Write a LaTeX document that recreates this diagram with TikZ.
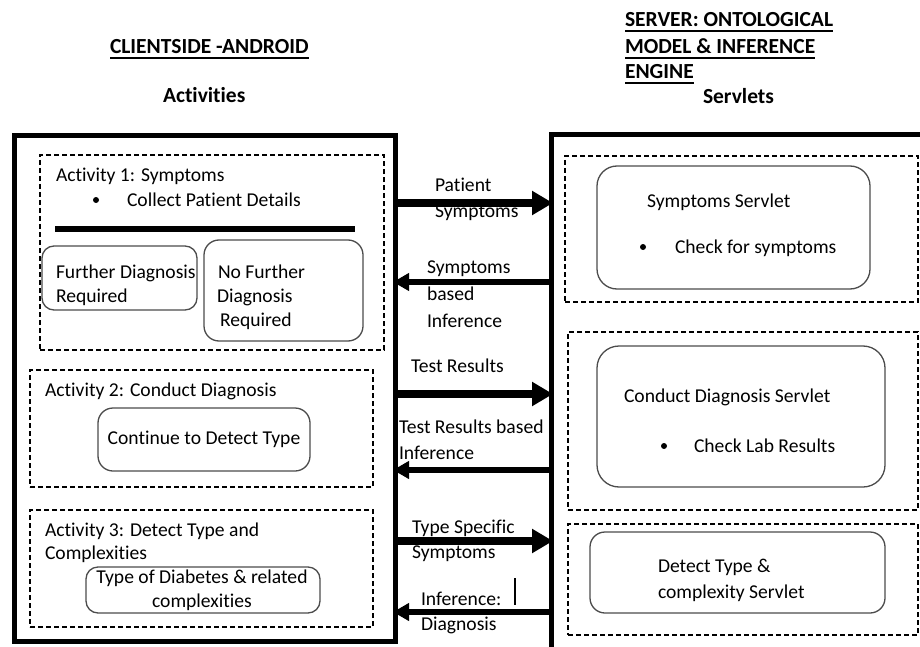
\documentclass[tikz,border=0pt]{standalone}
\usepackage{fontspec}
\setmainfont[Ligatures=NoCommon]{Carlito}
\usetikzlibrary{arrows.meta}
\begin{document}
\begin{tikzpicture}[x=1pt,y=-1pt,
  every node/.style={font=\fontsize{19.6}{23}\selectfont},
  txt/.style={anchor=base west, inner sep=0pt, outer sep=0pt},
  ttl/.style={anchor=base west, inner sep=0pt, outer sep=0pt, font=\fontsize{21.5}{25}\selectfont\bfseries},
  bigbox/.style={draw, line width=5pt, anchor=north west, outer sep=0pt, inner sep=0pt},
  dbox/.style={draw, line width=1.1pt, dash pattern=on 5pt off 3pt, anchor=north west, outer sep=0pt, inner sep=0pt},
  rbox/.style={draw=black!70, line width=1.3pt, rounded corners=15pt, anchor=north west, outer sep=0pt, inner sep=0pt},
  bul/.style={circle, fill, inner sep=0pt, minimum size=6pt},
  fwd/.style={line width=7.5pt, -{Triangle[length=21pt,width=23pt]}, shorten >=-2pt},
  bwd/.style={line width=5.5pt, -{Triangle[length=16pt,width=17pt]}, shorten >=-2pt},
  uline/.style={line width=1.3pt}
]
\useasboundingbox (0,0) rectangle (920,647);
\fill[white] (0,0) rectangle (920,647);
\clip (0,0) rectangle (920,647);

% titles
\node[ttl] (t1) at (110,54) {CLIENTSIDE -ANDROID};
\draw[uline] ([yshift=-4pt]t1.base west) -- ([yshift=-4pt]t1.base east);
\node[ttl] (t2) at (163,103) {Activities};
\node[ttl] (t3) at (625,27) {SERVER: ONTOLOGICAL};
\node[ttl] (t4) at (625,54) {MODEL \& INFERENCE};
\node[ttl] (t5) at (625,79) {ENGINE};
\draw[uline] ([yshift=-4pt]t3.base west) -- ([yshift=-4pt]t3.base east);
\draw[uline] ([yshift=-4pt]t4.base west) -- ([yshift=-4pt]t4.base east);
\draw[uline] ([yshift=-4pt]t5.base west) -- ([yshift=-4pt]t5.base east);
\node[ttl] (t6) at (703,104) {Servlets};

% big boxes
\node[bigbox, minimum width=381pt, minimum height=505pt] (L) at (14,136) {};
\node[bigbox, minimum width=400pt, minimum height=530pt] (R) at (551,135) {};

% activity dashed boxes
\node[dbox, minimum width=344pt, minimum height=195pt] (D1) at (40,155) {};
\node[dbox, minimum width=343pt, minimum height=117pt] (D2) at (30,370) {};
\node[dbox, minimum width=343pt, minimum height=117pt] (D3) at (30,510) {};
% servlet dashed boxes
\node[dbox, minimum width=353pt, minimum height=146pt] (S1) at (565,156) {};
\node[dbox, minimum width=350pt, minimum height=178pt] (S2) at (568,332) {};
\node[dbox, minimum width=350pt, minimum height=111pt] (S3) at (568,524) {};

% rounded boxes
\node[rbox, rounded corners=12pt, minimum width=155pt, minimum height=64pt] (FD) at (42,246) {};
\node[rbox, minimum width=159pt, minimum height=101pt] (NFD) at (204,240) {};
\node[rbox, minimum width=212pt, minimum height=63pt] (CDT) at (98,408) {};
\node[rbox, rounded corners=12pt, minimum width=234pt, minimum height=46pt] (TD) at (86,567) {};
\node[rbox, rounded corners=20pt, minimum width=273pt, minimum height=123pt] (SS) at (597,166) {};
\node[rbox, rounded corners=22pt, minimum width=288pt, minimum height=141pt] (CDS) at (597,346) {};
\node[rbox, minimum width=295pt, minimum height=81pt] (DTS) at (590,532) {};

% activity 1
\node[txt] (a1t) at (56,182) {Activity 1: Symptoms};
\node[bul] (b1) at (96,200) {};
\node[txt] (a1b) at (127,206) {Collect Patient Details};
\coordinate (sepL) at (55,229);
\coordinate (sepR) at (355,229);
\draw[line width=6pt] (sepL) -- (sepR);
\node[txt] (fd1) at (56,278) {Further Diagnosis};
\node[txt] (fd2) at (56,302) {Required};
\node[txt] (nf1) at (218,278) {No Further};
\node[txt] (nf2) at (217,302) {Diagnosis};
\node[txt] (nf3) at (220,326) {Required};

% activity 2
\node[txt] (a2t) at (45,396) {Activity 2: Conduct Diagnosis};
\node[anchor=base, inner sep=0pt] (cdt) at (204,444) {Continue to Detect Type};

% activity 3
\node[txt] (a3t) at (45,536) {Activity 3: Detect Type and};
\node[txt] (a3u) at (45,559) {Complexities};
\node[anchor=base, inner sep=0pt] (td1) at (202,583) {Type of Diabetes \& related};
\node[anchor=base, inner sep=0pt] (td2) at (202,607) {complexities};

% servlets
\node[txt] (ss1) at (647,207) {Symptoms Servlet};
\node[bul] (b2) at (643,247) {};
\node[txt] (ss2) at (675,253) {Check for symptoms};
\node[txt] (cd1) at (624,402) {Conduct Diagnosis Servlet};
\node[bul] (b3) at (664,446) {};
\node[txt] (cd2) at (694,452) {Check Lab Results};
\node[txt] (dt1) at (658,572) {Detect Type \&};
\node[txt] (dt2) at (658,598) {complexity Servlet};

% arrows
\coordinate (y1) at (0,203);
\coordinate (y2) at (0,282);
\coordinate (y3) at (0,394);
\coordinate (y4) at (0,470);
\coordinate (y5) at (0,541);
\coordinate (y6) at (0,612);
\draw[fwd] (L.east |- y1) -- (R.west |- y1);
\draw[bwd] (R.west |- y2) -- (L.east |- y2);
\draw[fwd] (L.east |- y3) -- (R.west |- y3);
\draw[bwd] (R.west |- y4) -- (L.east |- y4);
\draw[fwd] (L.east |- y5) -- (R.west |- y5);
\draw[bwd] (R.west |- y6) -- (L.east |- y6);

% arrow labels
\node[txt] (l1a) at (435,192) {Patient};
\node[txt] (l1b) at (435,217) {Symptoms};
\node[txt] (l2a) at (427,273) {Symptoms};
\node[txt] (l2b) at (427,300) {based};
\node[txt] (l2c) at (427,327) {Inference};
\node[txt] (l3a) at (411,372) {Test Results};
\node[txt] (l4a) at (399,433) {Test Results based};
\node[txt] (l4b) at (399,459) {Inference};
\node[txt] (l5a) at (412,533) {Type Specific};
\node[txt] (l5b) at (412,558) {Symptoms};
\node[txt] (l6a) at (421,605) {Inference:};
\node[txt] (l6b) at (421,630) {Diagnosis};
\coordinate (barT) at (515,578);
\coordinate (barB) at (515,605);
\draw[line width=2pt] (barT) -- (barB);
\end{tikzpicture}
\end{document}
